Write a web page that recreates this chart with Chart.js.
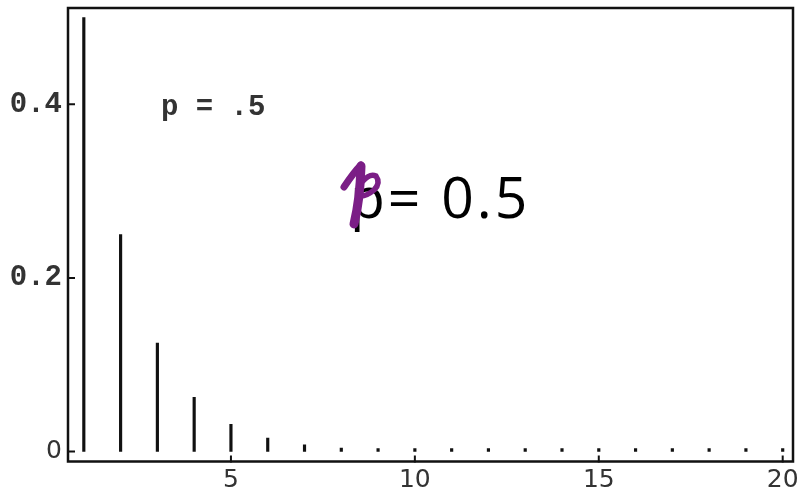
<!DOCTYPE html>
<html>
<head>
<meta charset="utf-8">
<script src="https://cdn.jsdelivr.net/npm/chart.js@4.4.1/dist/chart.umd.min.js"></script>
<style>
html,body{margin:0;padding:0;background:#fff;}
#wrap{width:798px;height:492px;position:relative;}
</style>
</head>
<body>
<div id="wrap"><canvas id="c" width="798" height="492"></canvas></div>
<script>
const categories = [1,2,3,4,5,6,7,8,9,10,11,12,13,14,15,16,17,18,19,20];
const probabilities = [0.5,0.25,0.125,0.0625,0.03125,0.015625,0.0078125,0.00390625,0.001953125,0.0009765625,0.00048828125,0.000244140625,0.0001220703125,0.00006103515625,0.000030517578125,0.0000152587890625,0.00000762939453125,0.000003814697265625,0.0000019073486328125,0.00000095367431640625];
const xTicks = [5,10,15,20];
const yTicks = [0,0.2,0.4];
const noteSmall = "p = .5";
const noteBig = "p= 0.5";

const monoFont = {family:"'Liberation Mono', 'DejaVu Sans Mono', monospace", size:29, weight:'bold'};
const sansFont = {family:"'DejaVu Sans', Verdana, sans-serif", size:25};

const framePlugin = {
  id:'frame',
  afterDraw(chart){
    const ctx = chart.ctx, a = chart.chartArea;
    const xs = chart.scales.x, ys = chart.scales.y;
    ctx.save();
    ctx.strokeStyle = '#111';
    ctx.lineWidth = 2.5;
    ctx.strokeRect(a.left, a.top, a.right - a.left, a.bottom - a.top);
    ctx.lineWidth = 2;
    ctx.beginPath();
    yTicks.forEach(v => { const y = ys.getPixelForValue(v); ctx.moveTo(a.left, y); ctx.lineTo(a.left + 7, y); });
    xTicks.forEach(v => { const x = xs.getPixelForValue(v); ctx.moveTo(x, a.bottom + 1); ctx.lineTo(x, a.bottom - 6); });
    ctx.stroke();
    // small annotation
    ctx.fillStyle = '#333';
    ctx.font = "bold 29px 'Liberation Mono', monospace";
    ctx.textBaseline = 'alphabetic';
    ctx.fillText(noteSmall, 161, 115);
    // big annotation
    ctx.fillStyle = '#000';
    ctx.font = "57px 'Open Sans', 'Noto Sans', sans-serif";
    ctx.letterSpacing = '3px';
    ctx.fillText(noteBig, 350, 218);
    ctx.letterSpacing = '0px';
    // purple handwritten stroke
    ctx.strokeStyle = '#7b1e86';
    ctx.lineCap = 'round';
    ctx.lineJoin = 'round';
    ctx.lineWidth = 7;
    ctx.beginPath();
    ctx.moveTo(344, 187);
    ctx.quadraticCurveTo(354, 172, 361, 165);
    ctx.stroke();
    ctx.lineWidth = 9;
    ctx.beginPath();
    ctx.moveTo(361, 166);
    ctx.quadraticCurveTo(360, 200, 354, 224);
    ctx.stroke();
    ctx.lineWidth = 5.5;
    ctx.beginPath();
    ctx.moveTo(363, 181);
    ctx.quadraticCurveTo(370, 173, 376, 176);
    ctx.quadraticCurveTo(381, 183, 374, 190);
    ctx.quadraticCurveTo(367, 196, 361, 196);
    ctx.stroke();
    ctx.restore();
  }
};

new Chart(document.getElementById('c'), {
  type:'bar',
  data:{
    datasets:[{
      data: categories.map((k,i)=>({x:k, y:probabilities[i]})),
      backgroundColor:'#111',
      borderWidth:0,
      barThickness:2.5,
      minBarLength:3
    }]
  },
  options:{
    responsive:false,
    animation:false,
    layout:{padding:{top:8, right:5, left:0, bottom:0}},
    plugins:{legend:{display:false}, tooltip:{enabled:false}},
    scales:{
      x:{
        type:'linear', min:0.57, max:20.28, offset:false,
        afterBuildTicks: s => { s.ticks = xTicks.map(v=>({value:v})); },
        afterFit: s => { s.height = 30.5; s.paddingLeft = 0; s.paddingRight = 0; },
        grid:{display:false, drawTicks:false},
        border:{display:false},
        ticks:{font:sansFont, color:'#333', padding:4, maxRotation:0, autoSkip:false}
      },
      y:{
        min:-0.0115, max:0.511,
        afterBuildTicks: s => { s.ticks = yTicks.map(v=>({value:v})); },
        afterFit: s => { s.width = 68; s.paddingTop = 0; s.paddingBottom = 0; },
        grid:{display:false, drawTicks:false},
        border:{display:false},
        ticks:{
          color:'#333', padding:6, autoSkip:false,
          font: c => (c.tick && c.tick.value === 0) ? sansFont : monoFont,
          callback: v => v === 0 ? '0' : String(v)
        }
      }
    }
  },
  plugins:[framePlugin]
});
</script>
</body>
</html>
